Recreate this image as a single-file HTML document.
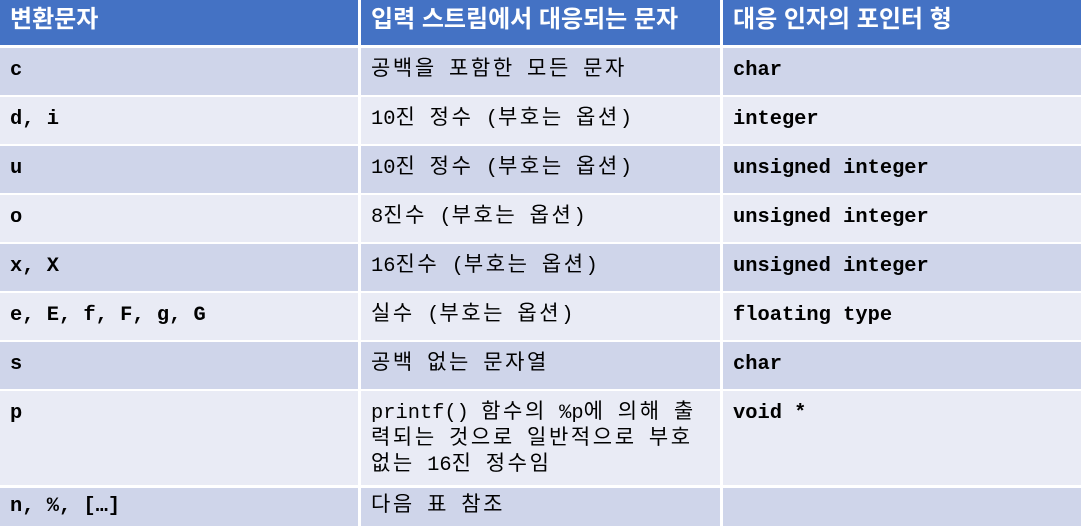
<!DOCTYPE html>
<html><head><meta charset="utf-8"><style>
body{margin:0;width:1081px;height:526px;background:#fff;overflow:hidden;position:relative}
.c{position:absolute;box-sizing:border-box;padding:12px 0 0 10px;font-family:"Liberation Mono","Noto Sans CJK KR",monospace;font-size:20.4px;line-height:26px;color:#000;white-space:pre-wrap}
.c .k{letter-spacing:2.6px;font-size:21px}
.h{background:#4472C4;color:#fff;font-family:"Liberation Sans","Noto Sans CJK KR",sans-serif;font-weight:bold;font-size:24px;padding-top:5px;line-height:30px}
.h .k{letter-spacing:0;font-size:24px}
.a{background:#CFD5EA}.b{background:#E9EBF5}
.bold{font-weight:bold}
</style></head><body>
<script>
const cols=[[0,358],[361,720],[723,1081]];
const rows=[
 [0,45,'h',['변환문자','입력 스트림에서 대응되는 문자','대응 인자의 포인터 형']],
 [48,95,'a',['c','공백을 포함한 모든 문자','char']],
 [97,144,'b',['d, i','10진 정수 (부호는 옵션)','integer']],
 [146,193,'a',['u','10진 정수 (부호는 옵션)','unsigned integer']],
 [195,242,'b',['o','8진수 (부호는 옵션)','unsigned integer']],
 [244,291,'a',['x, X','16진수 (부호는 옵션)','unsigned integer']],
 [293,340,'b',['e, E, f, F, g, G','실수 (부호는 옵션)','floating type']],
 [342,389,'a',['s','공백 없는 문자열','char']],
 [391,485,'b',['p','printf() 함수의 %p에 의해 출\n력되는 것으로 일반적으로 부호\n없는 16진 정수임','void *']],
 [488,526,'a',['n, %, […]','다음 표 참조','']]
];
function esc(s){return s.replace(/&/g,'&amp;').replace(/</g,'&lt;');}
rows.forEach((r,ri)=>{
 cols.forEach((c,ci)=>{
  const d=document.createElement('div');
  
  
  d.className='c '+r[2]+(ri>0&&ci!==1?' bold':'');
  d.style.left=c[0]+'px';d.style.width=(c[1]-c[0])+'px';
  d.style.top=r[0]+'px';d.style.height=(r[1]-r[0])+'px';
  if(ri>0)d.style.paddingTop=(ri===9?'6px':'10px');
  d.innerHTML=esc(r[3][ci]).replace(/([\uAC00-\uD7A3]+)/g,'<span class="k">$1</span>');
  document.body.appendChild(d);
 });
});
</script>
</body></html>
